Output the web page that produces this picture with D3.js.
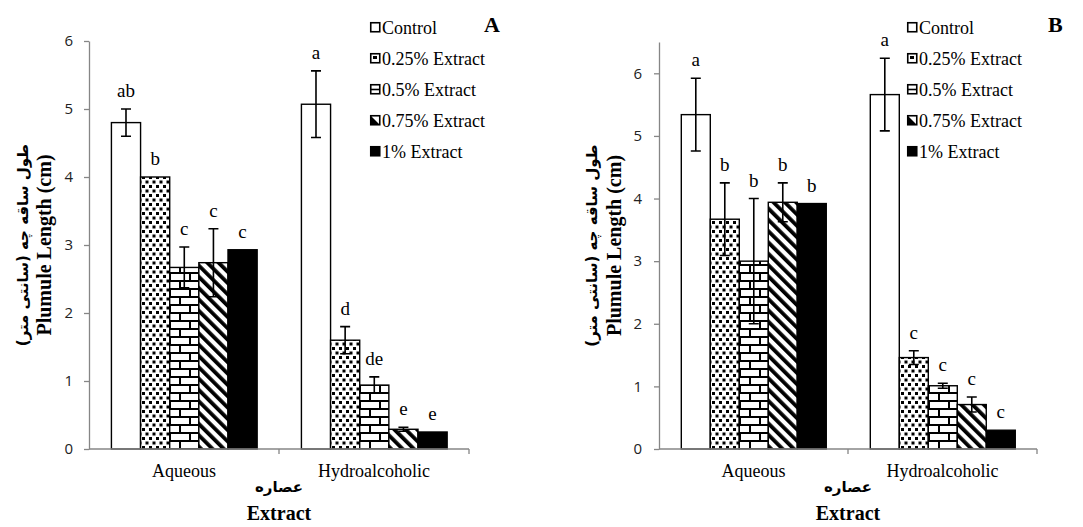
<!DOCTYPE html>
<html>
<head>
<meta charset="utf-8">
<script src="https://cdn.jsdelivr.net/npm/d3@7"></script>
<style>
  body { margin: 0; background: #fff; }
  svg { display: block; }
  .tick line, .domain { stroke: #868686; stroke-width: 1.3; }
</style>
</head>
<body>
<svg id="chart" width="1083" height="527"></svg>
<script>
// ---- data ----
const categories = ["Aqueous", "Hydroalcoholic"];
const series = ["Control", "0.25% Extract", "0.5% Extract", "0.75% Extract", "1% Extract"];

// panel A
const meansA = [[4.80, 4.00, 2.67, 2.74, 2.93], [5.07, 1.60, 0.94, 0.29, 0.25]];
const errorsA = [[0.20, 0, 0.30, 0.50, 0], [0.49, 0.20, 0.12, 0.03, 0]];
const lettersA = [["ab", "b", "c", "c", "c"], ["a", "d", "de", "e", "e"]];
const ticksA = [0, 1, 2, 3, 4, 5, 6];

// panel B
const meansB = [[5.34, 3.67, 3.00, 3.94, 3.92], [5.66, 1.46, 1.01, 0.71, 0.30]];
const errorsB = [[0.58, 0.58, 1.00, 0.31, 0], [0.58, 0.11, 0.04, 0.12, 0]];
const lettersB = [["a", "b", "b", "b", "b"], ["a", "c", "c", "c", "c"]];
const ticksB = [0, 1, 2, 3, 4, 5, 6];

const yTitleEn = "Plumule Length (cm)";
const yTitleFa = "طول ساقه چه (سانتی متر)";
const xTitleEn = "Extract";
const xTitleFa = "عصاره";

const SERIF = "'Liberation Serif', Tinos, 'DejaVu Serif', serif";
const FA = "'DejaVu Sans', sans-serif";

const svg = d3.select("#chart");
const fills = ["#fff", "url(#dots)", "url(#bricks)", "url(#stripes)", "#000"];

// ---- hatch patterns ----
const defs = svg.append("defs");

// staggered square dots
const dots = defs.append("pattern").attr("id", "dots")
    .attr("patternUnits", "userSpaceOnUse").attr("width", 7).attr("height", 9);
dots.append("rect").attr("width", 7).attr("height", 9).attr("fill", "#fff");
[[0.5, 0.5], [4, 5]].forEach(p => {
    dots.append("rect").attr("x", p[0]).attr("y", p[1]).attr("width", 3).attr("height", 3).attr("fill", "#000");
});

const bricks = defs.append("pattern").attr("id", "bricks")
    .attr("patternUnits", "userSpaceOnUse").attr("width", 20).attr("height", 16);
bricks.append("rect").attr("width", 20).attr("height", 16).attr("fill", "#fff");
bricks.append("path")
    .attr("d", "M0,1H20M0,9H20M1,1V9M11,9V17")
    .attr("stroke", "#000").attr("stroke-width", 2).attr("fill", "none");

const stripes = defs.append("pattern").attr("id", "stripes")
    .attr("patternUnits", "userSpaceOnUse").attr("width", 8).attr("height", 8)
    .attr("patternTransform", "rotate(-45)");
stripes.append("rect").attr("width", 8).attr("height", 8).attr("fill", "#fff");
stripes.append("rect").attr("width", 3.8).attr("height", 8).attr("fill", "#000");

// ---- one panel ----
function drawPanel(cfg) {
    const g = svg.append("g");

    const x = d3.scaleBand().domain(categories).range([cfg.left, cfg.right]);
    const bw = x.bandwidth();
    const xs = d3.scaleBand().domain(series).range([bw * 0.118, bw * 0.885]);
    const y = d3.scaleLinear().domain([0, cfg.yMax]).range([cfg.bottom, cfg.top]);

    // bars
    categories.forEach((cat, ci) => {
        const grp = g.append("g").attr("transform", `translate(${x(cat)},0)`);
        series.forEach((s, si) => {
            const v = cfg.means[ci][si];
            grp.append("rect")
                .attr("x", xs(s))
                .attr("y", y(v))
                .attr("width", xs.bandwidth())
                .attr("height", y(0) - y(v))
                .attr("fill", fills[si])
                .attr("stroke", "#000")
                .attr("stroke-width", 1.4);

            // error bar
            const e = cfg.errors[ci][si];
            const cx = xs(s) + xs.bandwidth() / 2;
            if (e > 0) {
                grp.append("path")
                    .attr("d", `M${cx},${y(v - e)}V${y(v + e)}M${cx - 5},${y(v - e)}H${cx + 5}M${cx - 5},${y(v + e)}H${cx + 5}`)
                    .attr("stroke", "#000").attr("stroke-width", 1.6).attr("fill", "none");
            }

            // significance letter
            grp.append("text")
                .attr("font-family", SERIF)
                .attr("x", cx)
                .attr("y", y(v + e) - 12)
                .attr("text-anchor", "middle")
                .attr("font-size", 19)
                .text(cfg.letters[ci][si]);
        });
    });

    // y axis
    const ya = g.append("g")
        .attr("transform", `translate(${cfg.left},0)`)
        .call(d3.axisLeft(y).tickValues(cfg.ticks).tickFormat(d3.format("d"))
            .tickSize(5).tickSizeOuter(0).tickPadding(cfg.tickPad));
    ya.selectAll(".tick text")
        .attr("font-family", "'Open Sans', sans-serif")
        .attr("font-size", 15)
        .attr("fill", "#222");

    // x axis: ticks on the category boundaries
    const xa = g.append("g");
    xa.append("line")
        .attr("class", "domain")
        .attr("x1", cfg.left).attr("x2", cfg.right)
        .attr("y1", y(0)).attr("y2", y(0));
    const bounds = categories.map(c => x(c)).slice(1).concat([cfg.right]);
    bounds.forEach(b => {
        xa.append("line").attr("class", "domain")
            .attr("x1", b).attr("x2", b).attr("y1", y(0)).attr("y2", y(0) + 5);
    });
    categories.forEach(c => {
        xa.append("text")
            .attr("font-family", SERIF)
            .attr("x", x(c) + bw / 2).attr("y", y(0) + 28)
            .attr("text-anchor", "middle").attr("font-size", 18)
            .text(c);
    });

    // axis titles
    const midX = (cfg.left + cfg.right) / 2;
    g.append("text")
        .attr("x", midX).attr("y", 492)
        .attr("text-anchor", "middle")
        .attr("font-family", FA).attr("font-weight", "bold").attr("font-size", 15)
        .attr("direction", "rtl")
        .text(xTitleFa);
    g.append("text")
        .attr("font-family", SERIF)
        .attr("x", midX).attr("y", 520)
        .attr("text-anchor", "middle").attr("font-weight", "bold").attr("font-size", 20)
        .text(xTitleEn);

    const midY = (cfg.top + cfg.bottom) / 2;
    g.append("text")
        .attr("transform", `translate(${cfg.faX},${midY}) rotate(-90)`)
        .attr("text-anchor", "middle")
        .attr("font-family", FA).attr("font-weight", "bold").attr("font-size", 15)
        .attr("direction", "rtl")
        .text(yTitleFa);
    g.append("text")
        .attr("font-family", SERIF)
        .attr("transform", `translate(${cfg.enX},${midY}) rotate(-90)`)
        .attr("text-anchor", "middle").attr("font-weight", "bold").attr("font-size", 20)
        .text(yTitleEn);

    // legend
    const lg = g.append("g").attr("transform", `translate(${cfg.legendX},0)`);
    series.forEach((s, i) => {
        const ty = 34 + i * 31;
        const row = lg.append("g").attr("transform", `translate(0,${ty - 12})`);
        row.append("rect").attr("x", 0.75).attr("y", 0.75).attr("width", 9).attr("height", 9)
            .attr("fill", i === 4 ? "#000" : "#fff").attr("stroke", "#000").attr("stroke-width", 1.6);
        if (i === 1) row.append("rect").attr("x", 3).attr("y", 3).attr("width", 4).attr("height", 3).attr("fill", "#000");
        if (i === 2) row.append("path").attr("d", "M1,5.5H10").attr("stroke", "#000").attr("stroke-width", 1.6);
        if (i === 3) row.append("path").attr("d", "M1,1L10,10L1,10Z").attr("fill", "#000");
        lg.append("text")
            .attr("font-family", SERIF)
            .attr("x", 12).attr("y", ty)
            .attr("font-size", 18)
            .text(s);
    });

    // panel tag
    g.append("text")
        .attr("font-family", SERIF)
        .attr("x", cfg.tagX).attr("y", 32)
        .attr("font-weight", "bold").attr("font-size", 22)
        .text(cfg.tag);
}

drawPanel({
    tag: "A", means: meansA, errors: errorsA, letters: lettersA, ticks: ticksA,
    yMax: 6, left: 89, right: 469, top: 41, bottom: 449,
    tickPad: 11, faX: 28, enX: 51, legendX: 370, tagX: 484
});

drawPanel({
    tag: "B", means: meansB, errors: errorsB, letters: lettersB, ticks: ticksB,
    yMax: 6.5, left: 659, right: 1037, top: 42, bottom: 449,
    tickPad: 12, faX: 597, enX: 621, legendX: 907, tagX: 1048
});
</script>
</body>
</html>
